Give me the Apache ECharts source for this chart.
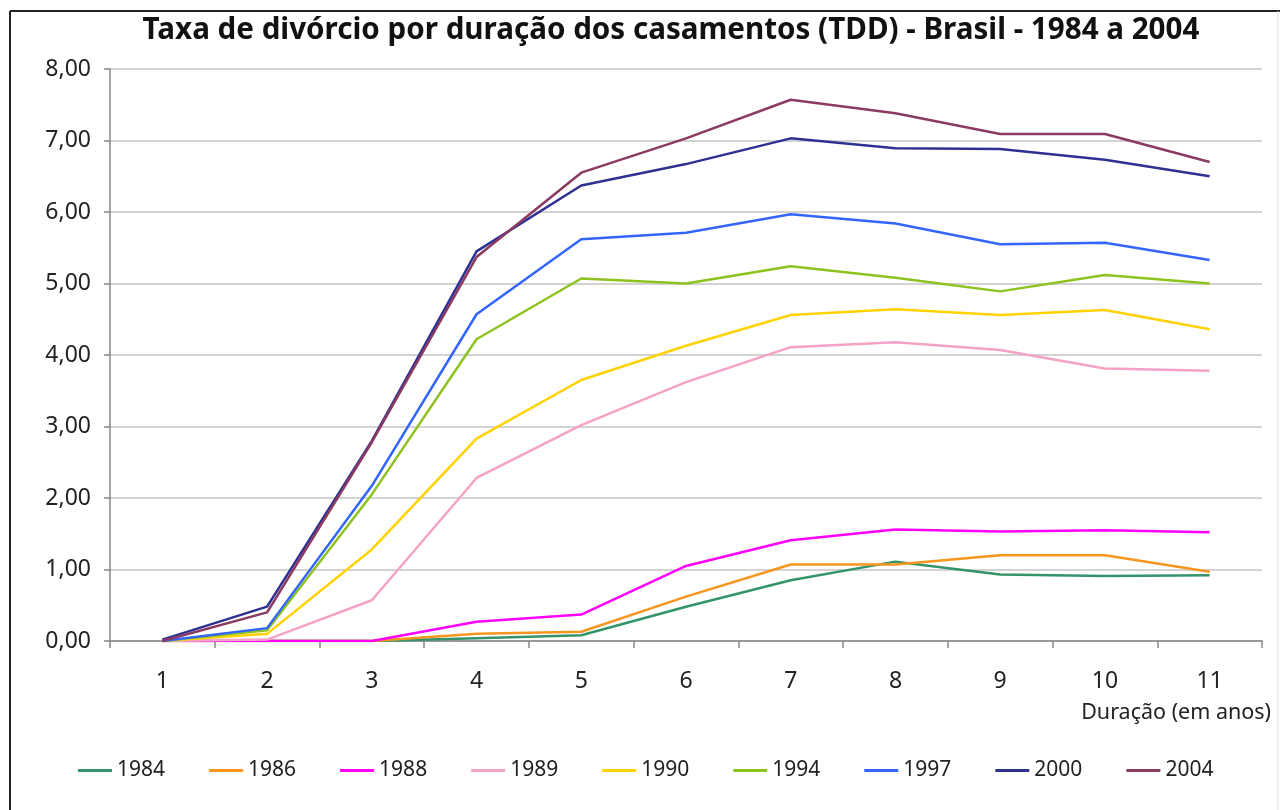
<!DOCTYPE html>
<html>
<head>
<meta charset="utf-8">
<script src="https://cdn.jsdelivr.net/npm/echarts@6/dist/echarts.min.js"></script>
<style>
html,body{margin:0;padding:0;background:#fff;}
#chart{width:1280px;height:810px;}
</style>
</head>
<body>
<div id="chart"></div>
<script>
const categories = ['1','2','3','4','5','6','7','8','9','10','11'];
const yTicks = [0,1,2,3,4,5,6,7,8];
const s1984 = [0.00, 0.00, 0.00, 0.04, 0.08, 0.48, 0.85, 1.11, 0.93, 0.91, 0.92];
const s1986 = [0.00, 0.00, 0.00, 0.10, 0.13, 0.62, 1.07, 1.07, 1.20, 1.20, 0.97];
const s1988 = [0.00, 0.00, 0.00, 0.27, 0.37, 1.05, 1.41, 1.56, 1.53, 1.55, 1.52];
const s1989 = [0.00, 0.02, 0.57, 2.28, 3.02, 3.62, 4.11, 4.18, 4.07, 3.81, 3.78];
const s1990 = [0.00, 0.10, 1.28, 2.83, 3.65, 4.13, 4.56, 4.64, 4.56, 4.63, 4.36];
const s1994 = [0.00, 0.15, 2.05, 4.22, 5.07, 5.00, 5.24, 5.08, 4.89, 5.12, 5.00];
const s1997 = [0.00, 0.18, 2.17, 4.57, 5.62, 5.71, 5.97, 5.84, 5.55, 5.57, 5.33];
const s2000 = [0.02, 0.48, 2.80, 5.45, 6.37, 6.67, 7.03, 6.89, 6.88, 6.73, 6.50];
const s2004 = [0.00, 0.40, 2.78, 5.37, 6.55, 7.03, 7.57, 7.38, 7.09, 7.09, 6.70];
const seriesNames = ['1984','1986','1988','1989','1990','1994','1997','2000','2004'];
const seriesData = [s1984, s1986, s1988, s1989, s1990, s1994, s1997, s2000, s2004];
const colors = ['#33936a','#f7961e','#ff00ff','#f4a3c6','#ffd200','#8dc21f','#3366ff','#2e3192','#8b3a62'];

const chart = echarts.init(document.getElementById('chart'));
const font = '"Noto Sans", "Open Sans", sans-serif';
chart.setOption({
  backgroundColor: '#fff',
  animation: false,
  title: {
    text: 'Taxa de divórcio por duração dos casamentos (TDD) - Brasil - 1984 a 2004',
    left: 666, textAlign: 'center', top: 11,
    textStyle: {fontFamily: font, fontSize: 29.6, fontWeight: 'bold', color: '#111'}
  },
  legend: {
    data: seriesNames,
    left: 73, top: 755,
    itemWidth: 34, itemHeight: 3, itemGap: 44,
    icon: 'rect',
    textStyle: {fontFamily: font, fontSize: 21, color: '#222'}
  },
  grid: {left: 110, right: 18, top: 69, bottom: 169, containLabel: false},
  xAxis: {
    type: 'category', data: categories, boundaryGap: true,
    axisLine: {lineStyle: {color: '#878787', width: 1.5}},
    axisTick: {show: true, length: 7, lineStyle: {color: '#878787', width: 1.5}},
    axisLabel: {margin: 29, fontFamily: font, fontSize: 23, color: '#222'},
    splitLine: {show: false}
  },
  yAxis: {
    type: 'value', min: yTicks[0], max: yTicks[yTicks.length-1], interval: 1,
    axisLine: {show: true, lineStyle: {color: '#878787', width: 1.5}},
    axisTick: {show: true, length: 6, lineStyle: {color: '#878787', width: 1.5}},
    axisLabel: {margin: 19, fontFamily: font, fontSize: 23, color: '#222',
      formatter: v => v.toFixed(2).replace('.', ',')},
    splitLine: {lineStyle: {color: '#c4c4c4', width: 1.5}}
  },
  graphic: [
    {type: 'text', right: 9, top: 702, style: {text: 'Duração (em anos)', fontFamily: font, fontSize: 21.5, fill: '#222'}},
    {type: 'line', shape: {x1: 10, y1: 11, x2: 1280, y2: 11}, style: {stroke: '#222', lineWidth: 2}},
    {type: 'line', shape: {x1: 10, y1: 11, x2: 10, y2: 810}, style: {stroke: '#222', lineWidth: 2}},
    {type: 'line', shape: {x1: 1278, y1: 11, x2: 1278, y2: 810}, style: {stroke: '#ddd', lineWidth: 1}}
  ],
  series: seriesNames.map((n, i) => ({
    name: n, type: 'line', data: seriesData[i], symbol: 'none',
    color: colors[i],
    lineStyle: {width: 2.5, color: colors[i]}
  }))
});
</script>
</body>
</html>
